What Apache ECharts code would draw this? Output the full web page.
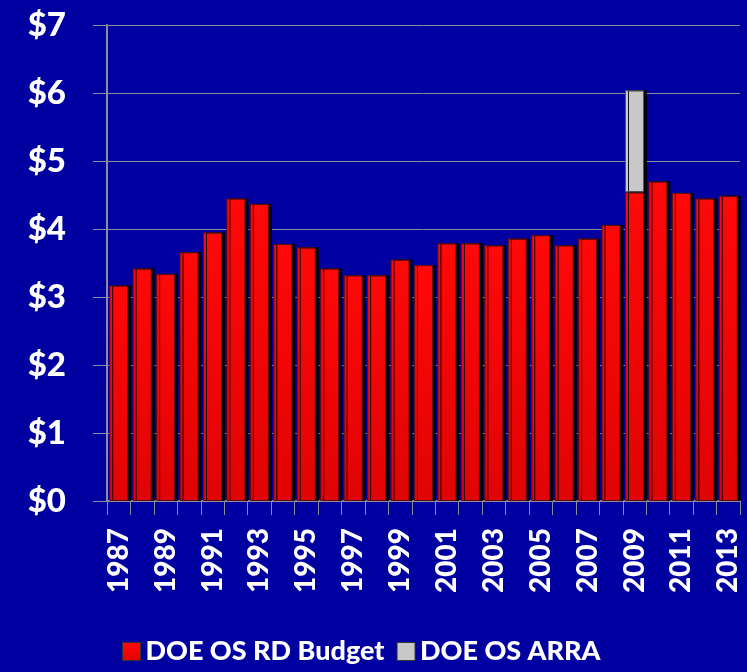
<!DOCTYPE html>
<html>
<head>
<meta charset="utf-8">
<script src="https://cdn.jsdelivr.net/npm/echarts@6/dist/echarts.min.js"></script>
<style>
  html, body { margin: 0; padding: 0; background: #0000a0; }
  #main { width: 747px; height: 672px; }
</style>
</head>
<body>
<div id="main"></div>
<script>
// 年份
var years = ['1987','1988','1989','1990','1991','1992','1993','1994','1995','1996','1997','1998','1999','2000',
             '2001','2002','2003','2004','2005','2006','2007','2008','2009','2010','2011','2012','2013'];
// DOE OS RD Budget ($B)
var budget = [3.17, 3.42, 3.34, 3.66, 3.95, 4.45, 4.37, 3.78, 3.73, 3.42, 3.32, 3.32, 3.55, 3.47,
              3.79, 3.79, 3.76, 3.86, 3.91, 3.76, 3.86, 4.06, 4.54, 4.70, 4.53, 4.45, 4.49];
// DOE OS ARRA ($B) - only 2009
var arra = ['-','-','-','-','-','-','-','-','-','-','-','-','-','-',
            '-','-','-','-','-','-','-','-', 1.50, '-','-','-','-'];
var yTicks = [0, 1, 2, 3, 4, 5, 6, 7];

var font = 'Lato, "Open Sans", sans-serif';
var gridGray = '#8c8c9c';

showchart();

function showchart(){
    var myChart = echarts.init(document.getElementById('main'));
    var option = {
        backgroundColor: '#0000a0',
        animation: false,
        grid: {
            left: 107,   // 左留白
            right: 7,
            top: 25,
            bottom: 171
        },
        legend: {
            bottom: 2,
            left: 117,
            icon: 'rect',
            itemWidth: 18,
            itemHeight: 18,
            itemGap: 12,
            itemStyle: { borderColor: '#333', borderWidth: 1 },
            textStyle: { color: '#fff', fontSize: 27, fontWeight: 900, fontFamily: font },
            data: ['DOE OS RD Budget', 'DOE OS ARRA']
        },
        xAxis: {
            type: 'category',
            data: years,
            axisLine: { lineStyle: { color: gridGray, width: 2 } },
            axisTick: { show: true, interval: 0, length: 14, lineStyle: { color: gridGray, width: 1 } },
            axisLabel: {
                interval: 1,
                rotate: 90,
                margin: 27,
                color: '#fff',
                fontSize: 28,
                fontWeight: 900,
                fontFamily: font
            },
            splitLine: { show: false }
        },
        yAxis: {
            type: 'value',
            min: yTicks[0],
            max: yTicks[yTicks.length - 1],
            interval: 1,
            axisLine: { show: true, lineStyle: { color: gridGray, width: 2 } },
            axisTick: { show: true, inside: false, length: 14, lineStyle: { color: gridGray } },
            axisLabel: {
                margin: 41,
                color: '#fff',
                fontSize: 33,
                fontWeight: 900,
                fontFamily: font,
                formatter: function (v) { return '$' + v; }
            },
            splitLine: { show: true, lineStyle: { color: gridGray, width: 1 } }
        },
        series: [
            {
                name: 'DOE OS RD Budget',
                type: 'bar',
                stack: 'total',
                barWidth: 19,
                data: budget,
                itemStyle: {
                    color: new echarts.graphic.LinearGradient(0, 0, 0, 1, [
                        { offset: 0, color: '#ff0808' },
                        { offset: 1, color: '#e00404' }
                    ]),
                    borderColor: '#5a1010',
                    borderWidth: 1,
                    shadowColor: 'rgba(0,0,0,0.9)',
                    shadowOffsetX: 3,
                    shadowOffsetY: 0,
                    shadowBlur: 0
                }
            },
            {
                name: 'DOE OS ARRA',
                type: 'bar',
                stack: 'total',
                barWidth: 19,
                data: arra,
                itemStyle: {
                    color: '#c8c8c8',
                    borderColor: '#555',
                    borderWidth: 1,
                    shadowColor: 'rgba(0,0,0,0.9)',
                    shadowOffsetX: 3,
                    shadowOffsetY: 0,
                    shadowBlur: 0
                }
            }
        ]
    };
    myChart.setOption(option);
}
</script>
</body>
</html>
